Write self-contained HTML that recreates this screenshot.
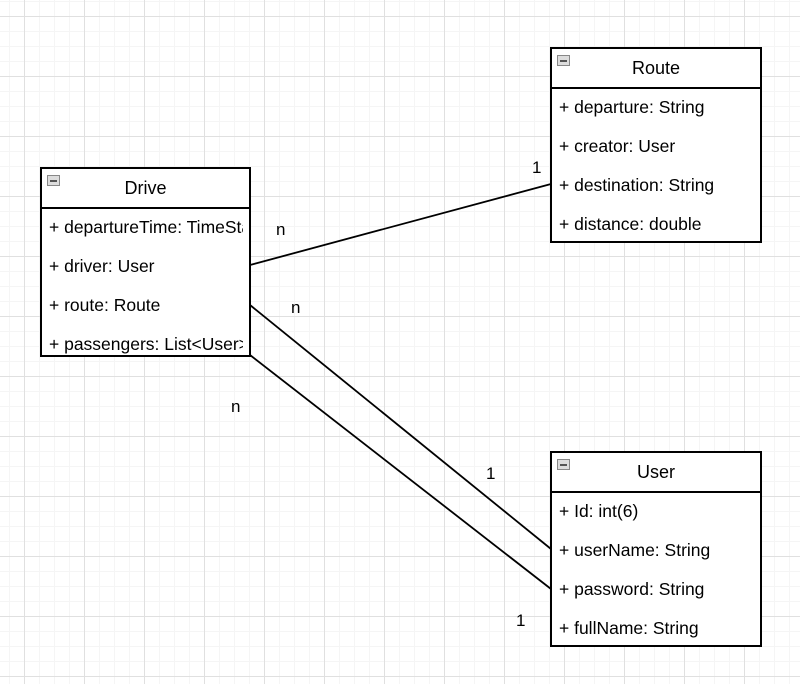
<!DOCTYPE html>
<html><head><style>
body{margin:0;width:800px;height:684px;overflow:hidden;background:#fff;font-family:"Liberation Sans",sans-serif;}
.bg{position:absolute;left:0;top:0;width:800px;height:684px;
background-image:
linear-gradient(to right,#e0e0e0 1px,transparent 1px),
linear-gradient(to bottom,#e0e0e0 1px,transparent 1px),
linear-gradient(to right,#f5f5f5 1px,transparent 1px),
linear-gradient(to bottom,#f5f5f5 1px,transparent 1px);
background-size:60px 60px,60px 60px,15px 15px,15px 15px;
background-position:24px 16px,24px 16px,9px 1px,9px 1px;}
.box{position:absolute;border:2px solid #000;background:#fff;box-sizing:border-box;overflow:hidden;}
.hd{height:38px;border-bottom:2px solid #000;text-align:center;line-height:38px;font-size:18px;position:relative;}
.hd i{position:absolute;left:5px;top:6px;width:11px;height:9px;border:1px solid #888;background:#ddd;}
.hd i:after{content:"";position:absolute;left:2px;top:4px;width:7px;height:1.5px;background:#555;}
.r{height:39px;line-height:36px;font-size:17.5px;padding-left:7px;white-space:nowrap;overflow:hidden;margin-right:6px;}
.l{position:absolute;font-size:17px;}
</style></head><body>
<div class="bg"></div>
<svg width="800" height="684" style="position:absolute;left:0;top:0">
<g stroke="#000" stroke-width="1.8" fill="none">
<line x1="250" y1="265" x2="551" y2="184"/>
<line x1="250" y1="305" x2="551" y2="549"/>
<line x1="250" y1="355" x2="551" y2="589"/>
</g></svg>
<div class="box" style="left:40px;top:167px;width:211px;height:190px">
<div class="hd"><i></i>Drive</div>
<div class="r">+ departureTime: TimeStamp</div><div class="r">+ driver: User</div><div class="r">+ route: Route</div><div class="r">+ passengers: List&lt;User&gt;</div></div>
<div class="box" style="left:550px;top:47px;width:212px;height:196px">
<div class="hd"><i></i>Route</div>
<div class="r">+ departure: String</div><div class="r">+ creator: User</div><div class="r">+ destination: String</div><div class="r">+ distance: double</div></div>
<div class="box" style="left:550px;top:451px;width:212px;height:196px">
<div class="hd"><i></i>User</div>
<div class="r">+ Id: int(6)</div><div class="r">+ userName: String</div><div class="r">+ password: String</div><div class="r">+ fullName: String</div></div>
<div class="l" style="left:276px;top:220px">n</div>
<div class="l" style="left:532px;top:158px">1</div>
<div class="l" style="left:291px;top:298px">n</div>
<div class="l" style="left:486px;top:464px">1</div>
<div class="l" style="left:231px;top:397px">n</div>
<div class="l" style="left:516px;top:611px">1</div>
</body></html>
